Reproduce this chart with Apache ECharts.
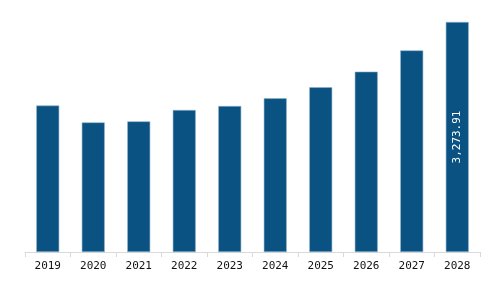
<!DOCTYPE html>
<html><head><meta charset="utf-8">
<script src="https://cdn.jsdelivr.net/npm/echarts@6/dist/echarts.min.js"></script>
<style>html,body{margin:0;padding:0;background:#fff}#c{width:494px;height:286px}</style>
</head><body><div id="c"></div>
<script>
const categories = ['2019','2020','2021','2022','2023','2024','2025','2026','2027','2028'];
const values = [2085, 1845, 1860, 2021, 2078, 2188, 2345, 2567, 2870, 3273.91];
const labelledIndex = 9;

const chart = echarts.init(document.getElementById('c'));
chart.setOption({
  animation: false,
  grid: {left: 25, right: 14, top: 22, bottom: 34},
  xAxis: {
    type: 'category', data: categories,
    axisLine: {lineStyle: {color: '#d9d9d9'}},
    axisTick: {show: true, length: 5, lineStyle: {color: '#d9d9d9'}},
    axisLabel: {color: '#111', fontFamily: 'DejaVu Sans Mono', fontSize: 11, margin: 9}
  },
  yAxis: {type: 'value', min: 0, max: 3273.91, show: false, splitLine: {show: false}},
  series: [{
    type: 'bar', barWidth: 23,
    data: values.map((v, i) => ({
      value: v,
      label: i === labelledIndex ? {
        show: true, position: 'inside', rotate: 90,
        formatter: p => p.value.toLocaleString('en-US', {minimumFractionDigits: 2}),
        color: '#fff', fontFamily: 'DejaVu Sans Mono', fontSize: 11
      } : {show: false}
    })),
    itemStyle: {color: '#0a5282', borderColor: '#8fb2cc', borderWidth: 0.6}
  }]
});
</script></body></html>
